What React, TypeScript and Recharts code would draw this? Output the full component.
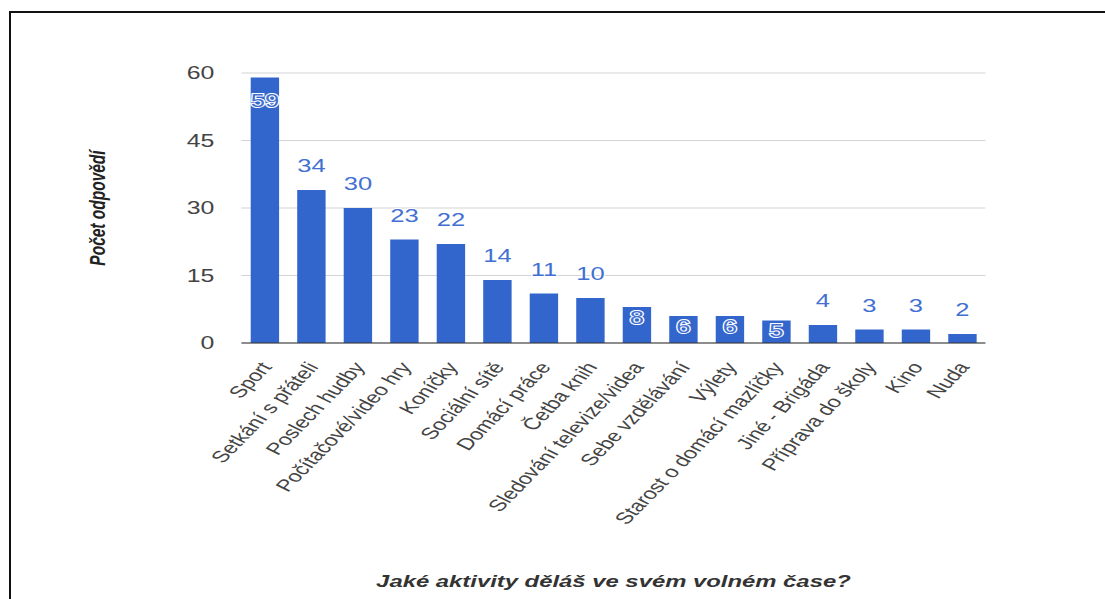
import React from 'react';
import { BarChart, Bar, XAxis, YAxis, CartesianGrid, LabelList } from 'recharts';

const CATEGORIES = [
  'Sport',
  'Setkání s přáteli',
  'Poslech hudby',
  'Počítačové/video hry',
  'Koníčky',
  'Sociální sítě',
  'Domácí práce',
  'Četba knih',
  'Sledování televize/videa',
  'Sebe vzdělávání',
  'Výlety',
  'Starost o domácí mazlíčky',
  'Jiné - Brigáda',
  'Příprava do školy',
  'Kino',
  'Nuda',
];
const RESPONSES = [59, 34, 30, 23, 22, 14, 11, 10, 8, 6, 6, 5, 4, 3, 3, 2];
const Y_TICKS = [0, 15, 30, 45, 60];
const Y_TITLE = 'Počet odpovědí';
const X_TITLE = 'Jaké aktivity děláš ve svém volném čase?';

const data = CATEGORIES.map((name, i) => ({ name, value: RESPONSES[i] }));

// the reference is stretched sideways, so draw narrow and scale the whole thing
const STRETCH = 1.42;
const WIDTH = 1105;
const HEIGHT = 599;
const INNER_W = WIDTH / STRETCH;
const BAR_COLOR = '#3366cc';

function XTick({ x, y, payload }: any) {
  return (
    <g transform={`translate(${x + 1},${y + 21})`}>
      <text textAnchor="end" transform="rotate(-55)" dy="0.35em" fontSize={16.5} fill="#444">
        {payload.value}
      </text>
    </g>
  );
}

function ValueLabel({ x, y, width, value }: any) {
  // google put some annotations inside the bars
  const inside = value > 50 || (value >= 5 && value <= 8);
  const cy = inside ? y + (value > 50 ? 23 : 10.5) : y - 24;
  return (
    <text
      x={x + width / 2}
      y={cy}
      dy="0.35em"
      textAnchor="middle"
      fontSize={18}
      fill="#4270d2"
      stroke="#fff"
      strokeWidth={2}
      paintOrder="stroke"
    >
      {value}
    </text>
  );
}

function YTitle({ viewBox }: any) {
  const cx = 69;
  const cy = viewBox.y + viewBox.height / 2;
  return (
    <text
      x={cx}
      y={cy}
      transform={`rotate(-90, ${cx}, ${cy})`}
      textAnchor="middle"
      dominantBaseline="central"
      fontSize={15.5}
      fontWeight="bold"
      fontStyle="italic"
      fill="#222"
    >
      {Y_TITLE}
    </text>
  );
}

function XTitle({ viewBox }: any) {
  return (
    <text
      x={viewBox.x + viewBox.width / 2}
      y={587}
      textAnchor="middle"
      fontSize={16.8}
      fontWeight="bold"
      fontStyle="italic"
      fill="#333"
    >
      {X_TITLE}
    </text>
  );
}

export default function App() {
  return (
    <div
      style={{
        position: 'fixed',
        left: 0,
        top: 0,
        width: WIDTH,
        height: HEIGHT,
        background: '#fff',
        overflow: 'hidden',
        fontFamily: "'Liberation Sans', Arial, sans-serif",
      }}
    >
      <div
        style={{
          position: 'absolute',
          left: 9,
          top: 11,
          right: -10,
          bottom: -10,
          borderTop: '2px solid #111',
          borderLeft: '2px solid #111',
        }}
      />
      <div
        style={{
          position: 'absolute',
          left: 0,
          top: 0,
          width: INNER_W,
          height: HEIGHT,
          transform: `scaleX(${STRETCH})`,
          transformOrigin: '0 0',
        }}
      >
        <BarChart
          width={INNER_W}
          height={HEIGHT}
          data={data}
          margin={{ top: 73, right: INNER_W - 694, left: 0, bottom: 6 }}
          barCategoryGap="20%"
        >
          <CartesianGrid vertical={false} stroke="#d4d4d4" />
          <XAxis
            dataKey="name"
            interval={0}
            height={250}
            axisLine={{ stroke: '#333' }}
            tickLine={false}
            tickSize={0}
            tickMargin={0}
            tick={<XTick />}
            label={<XTitle />}
          />
          <YAxis
            domain={[0, 60]}
            ticks={Y_TICKS}
            width={170}
            axisLine={false}
            tickLine={false}
            tickSize={0}
            tickMargin={19}
            tick={{ fontSize: 17.5, fill: '#444' }}
            label={<YTitle />}
          />
          <Bar dataKey="value" fill={BAR_COLOR} isAnimationActive={false}>
            <LabelList dataKey="value" content={<ValueLabel />} />
          </Bar>
        </BarChart>
      </div>
    </div>
  );
}
